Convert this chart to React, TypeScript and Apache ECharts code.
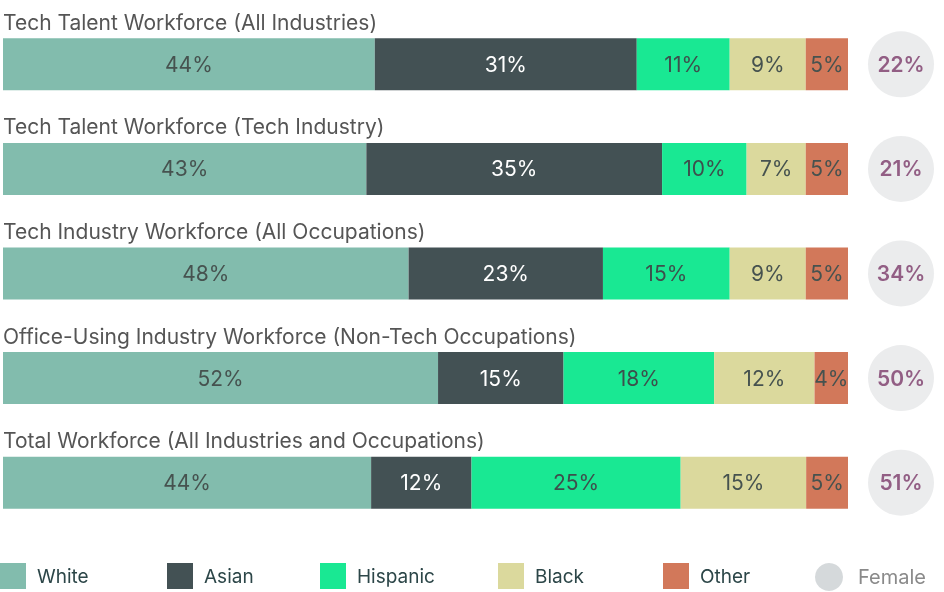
import React, { useEffect, useRef } from "react";
import * as echarts from "echarts";

const categories = [
  "Tech Talent Workforce (All Industries)",
  "Tech Talent Workforce (Tech Industry)",
  "Tech Industry Workforce (All Occupations)",
  "Office-Using Industry Workforce (Non-Tech Occupations)",
  "Total Workforce (All Industries and Occupations)",
];
const white = [44, 43, 48, 52, 44];
const asian = [31, 35, 23, 15, 12];
const hispanic = [11, 10, 15, 18, 25];
const black = [9, 7, 9, 12, 15];
const other = [5, 5, 5, 4, 5];
const female = [22, 21, 34, 50, 51];

const groups = [
  { name: "White", values: white, color: "#82bcad", text: "#46524f" },
  { name: "Asian", values: asian, color: "#435154", text: "#ffffff" },
  { name: "Hispanic", values: hispanic, color: "#19e893", text: "#3d4f4c" },
  { name: "Black", values: black, color: "#dbd99d", text: "#46524f" },
  { name: "Other", values: other, color: "#d2785a", text: "#46524f" },
];

const FONT = "Inter";

export default function App() {
  const ref = useRef<HTMLDivElement>(null);
  useEffect(() => {
    if (!ref.current) return;
    const chart = echarts.init(ref.current, undefined, { renderer: "svg" });
    const totals = categories.map((_, i) =>
      groups.reduce((s, g) => s + g.values[i], 0)
    );
    const barSeries = groups.map((g) => ({
      name: g.name,
      type: "bar",
      stack: "total",
      barWidth: 52,
      xAxisIndex: 0,
      yAxisIndex: 0,
      itemStyle: { color: g.color },
      label: {
        show: true,
        position: "inside",
        fontFamily: FONT,
        fontSize: 21,
        color: g.text,
        formatter: (p: any) => g.values[p.dataIndex] + "%",
      },
      data: g.values.map((v, i) => (v / totals[i]) * 100),
    }));
    const legendLefts = [0, 167, 320, 498, 663];
    const legends: any[] = groups.map((g, i) => ({
      data: [g.name],
      left: legendLefts[i],
      top: 563,
      padding: 0,
      icon: "rect",
      itemWidth: 26,
      itemHeight: 26,
      selectedMode: false,
      textStyle: {
        fontFamily: FONT,
        fontSize: 19,
        color: "#2c4648",
        padding: [6, 0, 0, 6],
      },
    }));
    legends.push({
      data: ["Female"],
      left: 815,
      top: 563,
      padding: 0,
      icon: "circle",
      itemWidth: 28,
      itemHeight: 28,
      selectedMode: false,
      itemStyle: { color: "#cbd0d2" },
      textStyle: {
        fontFamily: FONT,
        fontSize: 20,
        color: "#8a8a8a",
        padding: [0, 0, 5, 10],
      },
    });
    chart.setOption({
      animation: false,
      legend: legends,
      grid: [
        { left: 2, right: 96, top: 12, height: 523 },
        { left: 868, width: 66, top: 12, height: 523 },
      ],
      xAxis: [
        { type: "value", min: 0, max: 100, gridIndex: 0, show: false },
        { type: "value", min: 0, max: 1, gridIndex: 1, show: false },
      ],
      yAxis: [
        {
          type: "category",
          data: categories,
          inverse: true,
          gridIndex: 0,
          axisLine: { show: false },
          axisTick: { show: false },
          axisLabel: {
            inside: true,
            margin: 0,
            align: "left",
            verticalAlign: "bottom",
            lineHeight: 24,
            padding: [0, 0, 30, 0],
            fontFamily: FONT,
            fontSize: 21,
            color: "#555555",
          },
        },
        {
          type: "category",
          data: categories,
          inverse: true,
          gridIndex: 1,
          show: false,
        },
      ],
      series: [
        ...barSeries,
        {
          name: "Female",
          type: "scatter",
          xAxisIndex: 1,
          yAxisIndex: 1,
          symbol: "circle",
          symbolSize: 66,
          itemStyle: { color: "#e6e7e9" },
          label: {
            show: true,
            position: "inside",
            fontFamily: FONT,
            fontSize: 21,
            fontWeight: 600,
            color: "#7c3b6a",
            formatter: (p: any) => female[p.dataIndex] + "%",
          },
          data: female.map(() => 0.5),
        },
      ],
    });
    return () => chart.dispose();
  }, []);
  return (
    <div
      ref={ref}
      style={{ position: "fixed", left: 0, top: 0, width: 944, height: 592 }}
    />
  );
}
